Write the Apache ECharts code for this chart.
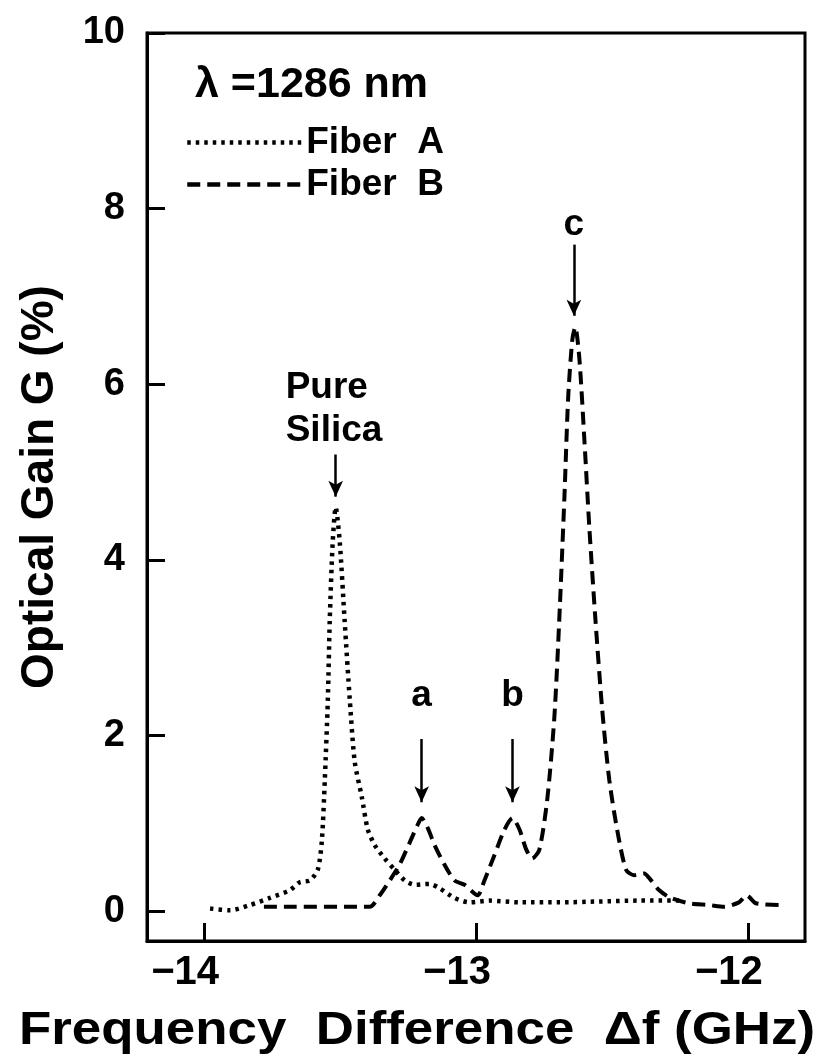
<!DOCTYPE html>
<html><head><meta charset="utf-8">
<script src="https://cdn.jsdelivr.net/npm/echarts@6/dist/echarts.min.js"></script>
<style>html,body{margin:0;padding:0;background:#fff}#c{width:834px;height:1061px}</style>
</head><body><div id="c"></div>
<script>
// ---- data ----
const xTickValues = [-14, -13, -12];
const yTickValues = [0, 2, 4, 6, 8, 10];

const fiberA_x = [-13.978,-13.905,-13.831,-13.758,-13.684,-13.648,-13.611,-13.582,-13.567,-13.556,-13.545,-13.538,-13.527,-13.516,-13.501,-13.483,-13.464,-13.446,-13.420,-13.398,-13.372,-13.336,-13.299,-13.262,-13.226,-13.171,-13.134,-13.079,-13.024,-12.950,-12.840,-12.694,-12.547,-12.400,-12.253];
const fiberA_y = [0.03,0.01,0.07,0.15,0.24,0.33,0.35,0.47,0.8,1.5,2.4,3.3,4.2,4.6,4.2,3.3,2.4,1.7,1.3,0.93,0.75,0.6,0.47,0.35,0.3,0.31,0.26,0.15,0.1,0.12,0.1,0.1,0.11,0.12,0.12];

const fiberB_x = [-13.78,-13.391,-13.354,-13.317,-13.281,-13.244,-13.215,-13.200,-13.178,-13.152,-13.116,-13.079,-13.042,-12.994,-12.969,-12.932,-12.895,-12.866,-12.840,-12.815,-12.793,-12.767,-12.738,-12.712,-12.694,-12.675,-12.661,-12.646,-12.635,-12.620,-12.602,-12.583,-12.561,-12.536,-12.510,-12.481,-12.448,-12.418,-12.382,-12.356,-12.327,-12.290,-12.217,-12.143,-12.088,-12.033,-12.004,-11.971,-11.886];
const fiberB_y = [0.05,0.05,0.18,0.35,0.53,0.78,0.98,1.06,0.95,0.75,0.53,0.35,0.3,0.18,0.35,0.64,0.93,1.06,0.93,0.7,0.6,0.7,1.27,2.2,3.3,4.7,5.85,6.5,6.65,6.3,5.4,4.36,3.33,2.3,1.5,0.93,0.47,0.41,0.43,0.35,0.24,0.16,0.09,0.07,0.05,0.1,0.18,0.09,0.07];

const seriesNames = ['Fiber  A', 'Fiber  B'];
const headerText = 'λ =1286 nm';
const xAxisTitle = 'Frequency  Difference  Δf (GHz)';
const yAxisTitle = 'Optical Gain G (%)';

// peak annotations: label, x, label y, arrow start y, arrow tip y
const peakLabels = ['Pure\nSilica', 'a', 'b', 'c'];
const peakX      = [-13.516, -13.200, -12.866, -12.640];
const arrowFromY = [5.2, 1.96, 1.96, 7.59];
const arrowToY   = [4.72, 1.24, 1.24, 6.78];
const labelX     = [-13.70, -13.200, -12.866, -12.640];
const labelY     = [5.72, 2.45, 2.45, 7.82];

const FONT = '"Liberation Sans", Arial, Helvetica, sans-serif';

const toPairs = (xs, ys) => xs.map((x, i) => [x, ys[i]]);

const chart = echarts.init(document.getElementById('c'), null, {renderer: 'canvas'});

const arrowData = peakX.map((x, i) => [
  {coord: [x, arrowFromY[i]], symbol: 'none'},
  {coord: [x, arrowToY[i]], symbol: 'arrow'}
]);

const dotStyle = {color: '#000', width: 4.5, type: [3.5, 5], cap: 'butt'};
const dashStyle = {color: '#000', width: 4, type: [13, 7], cap: 'butt'};

chart.setOption({
  animation: false,
  backgroundColor: '#fff',
  title: {
    text: headerText,
    left: 195, top: 64, padding: 0,
    textStyle: {fontFamily: FONT, fontWeight: 'bold', fontSize: 43, color: '#000'}
  },
  legend: {
    orient: 'vertical',
    left: 185, top: 124,
    itemWidth: 114, itemHeight: 18, itemGap: 5,
    padding: 0,
    selectedMode: false,
    itemStyle: {opacity: 0},
    lineStyle: {opacity: 1, width: 4.5},
    textStyle: {fontFamily: FONT, fontWeight: 'bold', fontSize: 37, color: '#000'},
    data: seriesNames
  },
  grid: {
    left: 147, right: 29, top: 33, bottom: 120,
    show: true, borderColor: '#000', borderWidth: 3, containLabel: false
  },
  xAxis: {
    type: 'value',
    min: -14.21, max: -11.79,
    splitLine: {show: false},
    axisLine: {show: true, onZero: false, lineStyle: {color: '#000', width: 3}},
    axisTick: {show: true, inside: true, length: 18, lineStyle: {color: '#000', width: 3}, customValues: xTickValues},
    axisLabel: {
      customValues: xTickValues,
      margin: 12,
      fontFamily: FONT, fontWeight: 'bold', fontSize: 40, color: '#000',
      padding: [0, 38, 0, 0],
      formatter: v => (v < 0 ? '\u2212' : '') + Math.abs(v)
    }
  },
  yAxis: {
    type: 'value',
    min: -0.34, max: 10,
    splitLine: {show: false},
    axisLine: {show: true, onZero: false, lineStyle: {color: '#000', width: 3}},
    axisTick: {show: true, inside: true, length: 18, lineStyle: {color: '#000', width: 3}, customValues: yTickValues},
    axisLabel: {
      customValues: yTickValues,
      margin: 22,
      fontFamily: FONT, fontWeight: 'bold', fontSize: 38, color: '#000'
    },
    name: yAxisTitle,
    nameLocation: 'middle',
    nameGap: 84,
    nameRotate: 90,
    nameTextStyle: {fontFamily: FONT, fontWeight: 'bold', fontSize: 46, color: '#000'}
  },
  series: [
    {
      name: seriesNames[0],
      type: 'line',
      data: toPairs(fiberA_x, fiberA_y),
      symbol: 'none',
      smooth: 0.25,
      lineStyle: dotStyle,
      itemStyle: {color: '#000'},
      silent: true,
      z: 3
    },
    {
      name: seriesNames[1],
      type: 'line',
      data: toPairs(fiberB_x, fiberB_y),
      symbol: 'none',
      smooth: 0.25,
      lineStyle: dashStyle,
      itemStyle: {color: '#000'},
      silent: true,
      z: 3,
      markLine: {
        silent: true,
        symbolSize: [11, 16],
        label: {show: false},
        lineStyle: {color: '#000', width: 2.5, type: 'solid'},
        data: arrowData
      }
    }
  ]
});

// text annotations placed by data coordinates
const graphics = peakLabels.map((t, i) => {
  const p = chart.convertToPixel({gridIndex: 0}, [labelX[i], labelY[i]]);
  const multi = t.indexOf('\n') >= 0;
  return {
    type: 'text',
    x: p[0], y: p[1],
    silent: true,
    style: {
      text: t,
      fill: '#000',
      font: 'bold 37px ' + FONT,
      textAlign: multi ? 'left' : 'center',
      textVerticalAlign: 'middle',
      lineHeight: 43
    }
  };
});
graphics.push({
  type: 'text',
  x: 417, y: 1031,
  scaleX: 1.125,
  silent: true,
  style: {
    text: xAxisTitle,
    fill: '#000',
    font: 'bold 47px ' + FONT,
    textAlign: 'center',
    textVerticalAlign: 'middle'
  }
});
chart.setOption({graphic: graphics});
</script>
</body></html>
